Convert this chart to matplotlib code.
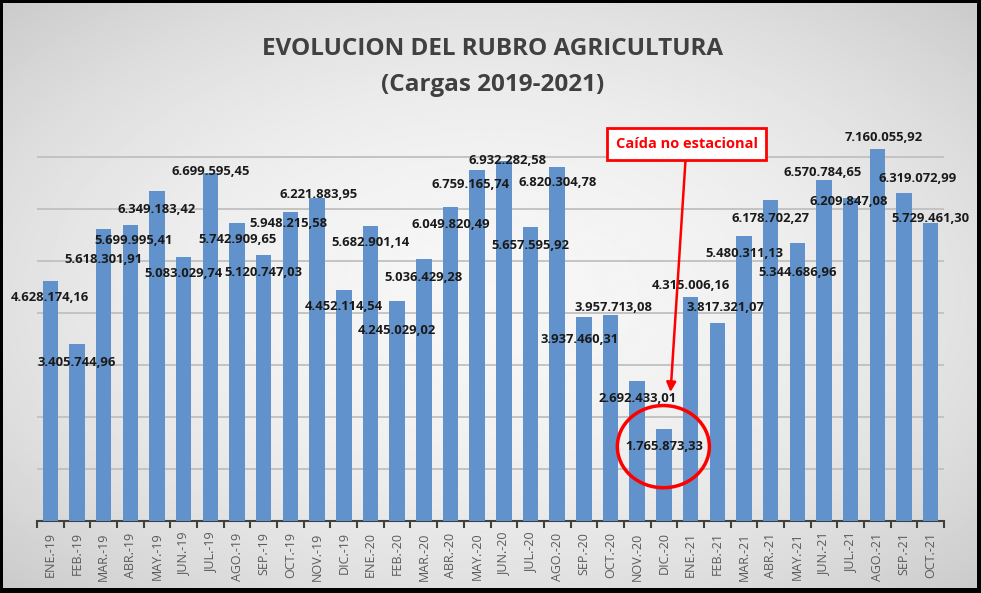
import numpy as np
import matplotlib
matplotlib.use("Agg")
import matplotlib.pyplot as plt
from matplotlib.patches import Ellipse

plt.rcParams['font.family'] = ['Open Sans', 'DejaVu Sans']

# data
meses = ['ENE.-19', 'FEB.-19', 'MAR.-19', 'ABR.-19', 'MAY.-19', 'JUN.-19', 'JUL.-19',
         'AGO.-19', 'SEP.-19', 'OCT.-19', 'NOV.-19', 'DIC.-19',
         'ENE.-20', 'FEB.-20', 'MAR.-20', 'ABR.-20', 'MAY.-20', 'JUN.-20', 'JUL.-20',
         'AGO.-20', 'SEP.-20', 'OCT.-20', 'NOV.-20', 'DIC.-20',
         'ENE.-21', 'FEB.-21', 'MAR.-21', 'ABR.-21', 'MAY.-21', 'JUN.-21', 'JUL.-21',
         'AGO.-21', 'SEP.-21', 'OCT.-21']
cargas = [4628174.16, 3405744.96, 5618301.91, 5699995.41, 6349183.42, 5083029.74,
          6699595.45, 5742909.65, 5120747.03, 5948215.58, 6221883.95, 4452114.54,
          5682901.14, 4245029.02, 5036429.28, 6049820.49, 6759165.74, 6932282.58,
          5657595.92, 6820304.78, 3937460.31, 3957713.08, 2692433.01, 1765873.33,
          4315006.16, 3817321.07, 5480311.13, 6178702.27, 5344686.96, 6570784.65,
          6209847.08, 7160055.92, 6319072.99, 5729461.30]

# label placement relative to bar top (pixels: right, down) - mimics the excel layout
lbl_dx = [0, 0, 0, 3, 0, 0, 0, 0, 0, -2, 1, 0, 0, 0, 0, 0, -7, 4, 0, 0, -4, 3,
          0, 0, 0, 8, 0, 0, 0, -1, -2, 6, 14, 0]
lbl_dy = [17, 18, 30, 16, 18, 17, -1, 17, 17, 12, -3, 17, 17, 30, 18, 18, 15, 0,
          18, 16, 23, -8, 17, 17, -11, -15, 17, 18, 29, -7, 3, -11, -14, -5]


def fmt_es(v):
    s = f"{v:,.2f}"
    return s.replace(",", "X").replace(".", ",").replace("X", ".")


W, H = 981, 593
fig = plt.figure(figsize=(W / 100, H / 100), dpi=100, facecolor='black')

# gray radial gradient background inside black frame
bg = fig.add_axes([3 / W, 5 / H, 974 / W, 585 / H])
yy, xx = np.mgrid[-1:1:300j, -1:1:500j]
r2 = (xx ** 2 + yy ** 2) / 2
grad = 0.965 - 0.17 * r2
bg.imshow(grad, cmap='gray', vmin=0, vmax=1, aspect='auto', extent=[0, 1, 0, 1])
bg.set_axis_off()

ax_l, ax_r = 37, 944
ax_b, ax_t = 521.3, 140.1
ax = fig.add_axes([ax_l / W, (H - ax_b) / H, (ax_r - ax_l) / W, (ax_b - ax_t) / H])
ax.patch.set_alpha(0)

x = np.arange(len(meses))
ax.bar(x, cargas, width=0.58, color='#6192cb', zorder=3)

ymax = 7e6 + (157.3 - ax_t) / 52.0 * 1e6
ax.set_ylim(0, ymax)
ax.set_xlim(-0.5, len(meses) - 0.5)
ax.set_yticks(np.arange(1e6, 7.5e6, 1e6))
ax.yaxis.grid(True, color='#c0c0c0', lw=1.3, zorder=0)
ax.tick_params(axis='y', left=False, labelleft=False)

ax.set_xticks(x)
ax.set_xticklabels(meses, rotation=90, fontsize=9, color='#595959')
ax.set_xticks(np.arange(-0.5, len(meses), 1), minor=True)
ax.tick_params(axis='x', which='major', length=0, pad=8)
ax.tick_params(axis='x', which='minor', length=5, width=1.5, color='#404040')
for s in ['top', 'right', 'left']:
    ax.spines[s].set_visible(False)
ax.spines['bottom'].set_color('#404040')
ax.spines['bottom'].set_linewidth(1.5)

for i, v in enumerate(cargas):
    ax.annotate(fmt_es(v), (x[i], v), xytext=(lbl_dx[i], -lbl_dy[i]),
                textcoords='offset pixels', ha='center', va='center',
                fontsize=9.4, fontweight='bold', color='#1a1a1a', zorder=4,
                annotation_clip=False)

# title
fig.text(493 / W, 1 - 49 / H, 'EVOLUCION DEL RUBRO AGRICULTURA', ha='center', va='center',
         fontsize=17.5, fontweight='bold', color='#404040')
fig.text(493 / W, 1 - 85 / H, '(Cargas 2019-2021)', ha='center', va='center',
         fontsize=17.5, fontweight='bold', color='#404040')

# callout on DIC.-20
idx = meses.index('DIC.-20')
ax.annotate('Caída no estacional', xy=(idx + 0.25, cargas[idx] + 0.72e6),
            xytext=(idx + 0.85, 7.26e6), ha='center', va='center',
            fontsize=10.5, fontweight='bold', color='#ff0000', zorder=6,
            annotation_clip=False,
            bbox=dict(boxstyle='square,pad=0.6', fc='white', ec='#ff0000', lw=2),
            arrowprops=dict(arrowstyle='-|>', color='#ff0000', lw=1.8,
                            mutation_scale=14, shrinkA=0, shrinkB=0))
ax.add_patch(Ellipse((idx - 0.02, cargas[idx] - 0.33e6), 3.45, 1.58e6, fill=False,
                     ec='#ff0000', lw=2.5, zorder=5, clip_on=False))

fig.savefig('out.png', dpi=100, facecolor='black')
